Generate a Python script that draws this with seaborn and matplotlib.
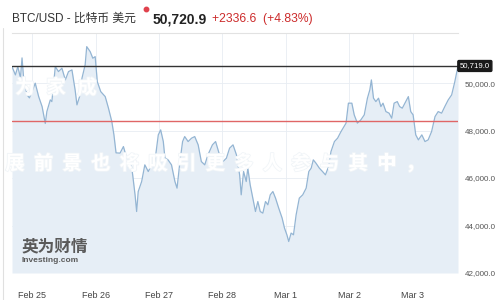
import matplotlib
matplotlib.use("Agg")
import matplotlib.pyplot as plt
import matplotlib.patheffects as pe
from matplotlib.lines import Line2D
import seaborn as sns
import pandas as pd

# ---- data (hours after Feb 25 00:00, BTC/USD price) ----
hours = [-7.7, -6.4, -5.5, -4.5, -3.9, -3.3, -2.0, -1.1, -0.1, 1.1, 2.4, 3.7, 4.9, 5.5,
         6.8, 7.4, 8.7, 9.9, 11.2, 12.5, 13.7, 15.0, 16.2, 16.9, 18.1, 18.8, 20.0, 20.6,
         21.9, 22.9, 23.8, 24.6, 25.9, 27.6, 28.8, 30.1, 30.9, 31.7, 33.2, 34.5, 35.7,
         37.0, 38.0, 38.9, 39.5, 40.1, 41.4, 42.6, 43.9, 45.2, 46.4, 47.7, 48.6, 49.6,
         50.2, 51.4, 52.7, 54.0, 54.8, 55.9, 56.9, 57.7, 59.0, 60.3, 61.5, 62.8, 64.0,
         65.3, 66.5, 68.2, 69.4, 70.7, 72.2, 73.5, 74.7, 76.0, 77.3, 78.5, 79.1, 80.0,
         81.0, 81.6, 82.5, 83.5, 84.5, 85.4, 86.3, 87.3, 88.3, 89.2, 90.1, 91.1, 92.1,
         93.3, 94.6, 95.5, 96.4, 97.1, 98.0, 98.9, 99.9, 101.1, 102.4, 103.7, 104.7,
         105.6, 106.4, 107.4, 108.7, 109.9, 111.0, 112.2, 113.1, 114.4, 115.6, 116.9,
         118.8, 119.7, 121.0, 121.9, 123.1, 124.4, 125.7, 126.9, 127.8, 128.4, 129.2,
         130.1, 131.1, 132.0, 132.8, 133.9, 135.1, 136.1, 137.0, 138.2, 139.1, 140.1,
         141.4, 142.4, 143.3, 144.2, 145.2, 146.2, 147.5, 148.7, 149.9, 151.2, 152.5,
         153.7, 155.0, 156.2, 157.5, 158.8, 160.0, 161.2]
prices = [50690, 50345, 50694, 50219, 51061, 50206, 49503, 49377, 49642, 49996, 49431,
          49010, 48300, 48800, 49292, 49220, 50694, 50484, 50627, 50134, 50484, 50555,
          49713, 49082, 49503, 50206, 50766, 51536, 51326, 51048, 51115, 50063, 49642,
          49431, 48956, 48379, 47819, 47061, 47049, 47326, 46851, 46977, 46135, 45293,
          44590, 45432, 45853, 46556, 46274, 46556, 46695, 47819, 48029, 47537, 46851,
          46766, 46556, 45853, 45575, 46695, 47537, 47747, 47537, 47680, 47747, 47398,
          46695, 46556, 46977, 47398, 47537, 47049, 46695, 46838, 47259, 47398, 46977,
          46135, 45293, 46274, 45853, 46417, 45714, 45154, 44590, 45011, 44590, 44522,
          45011, 44872, 45293, 45432, 45154, 44733, 44312, 43891, 43609, 43327, 43681,
          43609, 44451, 45154, 45293, 45575, 46274, 46417, 46766, 46628, 46417, 46274,
          46135, 46484, 47116, 47537, 47680, 47958, 48312, 49154, 49154, 48661, 48312,
          48450, 48661, 49364, 49713, 50134, 49364, 49221, 49364, 49010, 49154, 48800,
          48733, 48522, 49154, 49221, 49010, 48943, 49221, 49431, 48800, 48661, 47819,
          47608, 47819, 47537, 47608, 47958, 48589, 48800, 48733, 49010, 49292, 49503,
          50063, 50721]
day_ticks = [0, 24, 48, 72, 96, 120, 144]
day_labels = ["Feb 25", "Feb 26", "Feb 27", "Feb 28", "Mar 1", "Mar 2", "Mar 3"]
y_ticks = [42000, 44000, 46000, 48000, 50000]
last_price = 50720.9
prev_close = 48384.3
change = 2336.6
change_pct = 4.83
box_label = "50,719.0"
title_name = "BTC/USD - 比特币 美元"
wm_line1 = "为家成"
wm_line2 = "展前景也将吸引更多人参与其中，"

sns.set_theme(style="white")
FAM = ['Liberation Sans', 'Noto Sans CJK SC', 'DejaVu Sans']
plt.rcParams['font.family'] = FAM

W, H = 500, 300
fig = plt.figure(figsize=(5, 3), dpi=100)
fig.patch.set_facecolor("white")

def fx(px):
    return px / W

def fy(py):
    return 1 - py / H

ax = fig.add_axes([fx(12), fy(273), fx(458) - fx(12), fy(33) - fy(273)])
df = pd.DataFrame({"hour": hours, "price": prices})
ax.fill_between(df["hour"], df["price"], 42000, color="#e6eef6", lw=0, zorder=1)
sns.lineplot(data=df, x="hour", y="price", ax=ax, color="#94b5d3", lw=0.9, zorder=3)

ax.axhline(last_price, color="#333333", lw=1.0, zorder=4)
ax.axhline(prev_close, color="#e06666", lw=1.0, zorder=4)

ax.set_xlim(hours[0], hours[-1])
ax.set_ylim(42000, 52110)
ax.set_xlabel("")
ax.set_ylabel("")
ax.set_xticks(day_ticks)
ax.set_xticklabels(day_labels)
ax.yaxis.tick_right()
ax.set_yticks(y_ticks)
ax.set_yticklabels([f"{v:,.1f}" for v in y_ticks])
ax.tick_params(axis="x", length=0, pad=13, labelsize=6.5, labelcolor="#444444")
ax.tick_params(axis="y", length=0, pad=5, labelsize=5.8, labelcolor="#555555")
ax.grid(True, color="#e8edf2", lw=0.6, zorder=0)
ax.set_axisbelow(True)
for s in ["left", "right", "bottom"]:
    ax.spines[s].set_visible(False)
ax.spines["top"].set_color("#e2e2e2")
ax.spines["top"].set_linewidth(0.8)

# current price box
ax.text(1.004, last_price, box_label, transform=ax.get_yaxis_transform(),
        ha="left", va="center", fontsize=5.6, color="white", zorder=6,
        bbox=dict(boxstyle="round,pad=0.25,rounding_size=0.15", fc="#1a1a1a", ec="#1a1a1a"),
        clip_on=False)

# left frame line
fig.add_artist(Line2D([fx(3), fx(3)], [0, fy(28)], color="#e0e0e0", lw=0.8))

# header
fig.text(fx(12), fy(19), title_name, fontsize=8.5, color="#333333",
         ha="left", va="center")
fig.add_artist(Line2D([fx(146)], [fy(9)], marker="o", ms=3.2, color="#e0424d", lw=0))
fig.text(fx(153), fy(19), f"{last_price:,.1f}", fontsize=10,
         fontweight="bold", color="#222222", ha="left", va="center")
fig.text(fx(212), fy(19), f"+{change:.1f}  (+{change_pct:.2f}%)",
         fontsize=8.7, color="#cc2b2b", ha="left", va="center")

# logo
fig.text(fx(22), fy(246), "英为财情", family=['Noto Sans CJK SC'], fontsize=12,
         fontweight="bold", color="#5a5a5a", ha="left", va="center")
fig.text(fx(22), fy(261), "Investing.com", fontsize=6, fontweight="bold",
         color="#5a5a5a", ha="left", va="center")

# watermark (white text, barely visible except over the filled area)
stroke = [pe.withStroke(linewidth=1.2, foreground="#f1f5f8")]
for i, ch in enumerate(wm_line1):
    fig.text(fx(25 + 31 * i), fy(88), ch, family=['Noto Sans CJK SC'], fontsize=14,
             fontweight="bold", color="white", ha="center", va="center",
             path_effects=stroke, zorder=10)
for i, ch in enumerate(wm_line2):
    fig.text(fx(15 + 28.6 * i), fy(164), ch, family=['Noto Sans CJK SC'], fontsize=14,
             fontweight="bold", color="white", ha="center", va="center",
             path_effects=stroke, zorder=10)

fig.savefig("out.png", dpi=100, facecolor="white")
